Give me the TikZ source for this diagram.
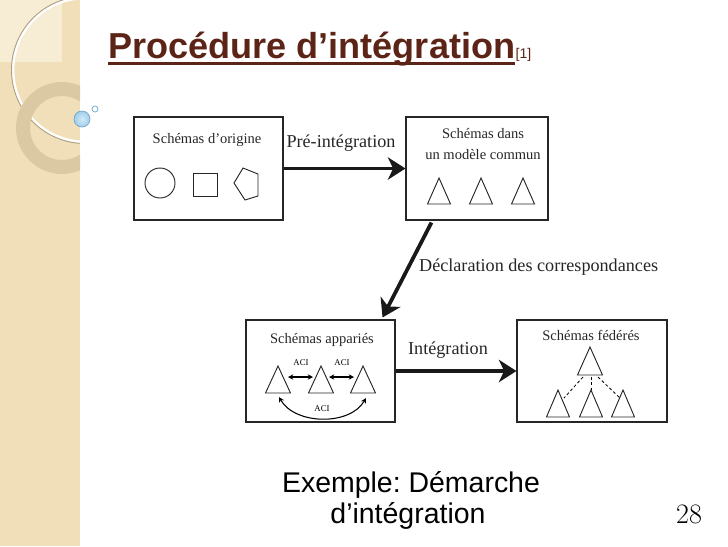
\documentclass[tikz,border=0pt]{standalone}
\usepackage{fontspec}
\setmainfont{Liberation Serif}
\newfontfamily\titlefont{Liberation Sans}
\newfontfamily\numfont{Latin Modern Roman}
\usetikzlibrary{arrows.meta,calc}
\definecolor{titlebrown}{RGB}{92,36,22}
\definecolor{stripbeige}{RGB}{241,223,185}
\definecolor{striplight}{RGB}{247,236,212}
\definecolor{ringtan}{RGB}{218,201,163}
\definecolor{bubble}{RGB}{160,206,234}
\definecolor{bubbleedge}{RGB}{110,168,208}
\frenchspacing
\tikzset{
  schbox/.style={draw=black!85, line width=0.9pt, inner sep=0pt},
  schlabel/.style={font=\fontsize{12.4}{18}\selectfont, align=center, text=black!85},
  flowlabel/.style={font=\fontsize{15.5}{18}\selectfont, text=black!85},
  bigarrow/.style={line width=3.2pt, -{Stealth[length=15pt,width=19pt,inset=4.5pt]}, black!90},
  aci/.style={line width=0.9pt, {Stealth[length=4.5pt,width=4.5pt]}-{Stealth[length=4.5pt,width=4.5pt]}},
  acilabel/.style={font=\fontsize{7.5}{9}\selectfont, inner sep=0pt},
  tri/.style={line width=0.8pt, line join=miter, black!85},
  dashlink/.style={line width=0.7pt, dash pattern=on 2.5pt off 2pt},
}
\begin{document}
\begin{tikzpicture}[x=0.03cm, y=-0.03cm]
    \useasboundingbox (0,0) rectangle (728,546);
    % bande decorative
    \begin{scope}
        \clip (0,0) rectangle (80,546);
        \fill[stripbeige] (0,0) rectangle (80,546);
        \fill[striplight] (0,0) rectangle (62,62);
        \draw[white, line width=2.4pt] (85,70) circle (72);
        \draw[ringtan!80!black, line width=0.8pt] (85,70) circle (73.5);
        \fill[ringtan, even odd rule] (62,128) circle (46) (62,128) circle (32);
    \end{scope}
    \shade[inner color=white!55!bubble, outer color=bubble] (82,119) circle (8);
    \draw[bubbleedge, line width=0.6pt] (82,119) circle (8);
    \draw[bubbleedge, fill=white, line width=0.6pt] (95,109) circle (3);
    % titre
    \node[anchor=base west, inner sep=0pt, font=\titlefont\bfseries\fontsize{30.8}{36}\selectfont, text=titlebrown] (titre) at (108,58) {Procédure d’intégration};
    \node[anchor=base west, inner sep=0pt, font=\titlefont\fontsize{12}{14}\selectfont, text=titlebrown] (ref) at (titre.base east) {[1]};
    \draw[titlebrown, line width=2.6pt] ($(titre.base west)+(0,5.5)$) -- ($(titre.base east)+(0,5.5)$);
    % schemas
    \node[schbox, minimum width=4.47cm, minimum height=3.09cm] (origine) at (208.5,168.5) {};
    \node[schbox, minimum width=4.26cm, minimum height=3.09cm] (commun) at (477,168.5) {};
    \node[schbox, minimum width=4.47cm, minimum height=3.06cm] (apparies) at (320.5,371) {};
    \node[schbox, minimum width=4.5cm, minimum height=3.06cm] (federes) at (592,371) {};
    \node[schlabel] (lorigine) at (207,140) {Schémas d'origine};
    \node[schlabel] (lcommun) at (483,144) {Schémas dans\\un modèle commun};
    \node[schlabel] (lapparies) at (322,340) {Schémas appariés};
    \node[schlabel] (lfederes) at (591,335) {Schémas fédérés};
    % formes d'origine
    \draw[tri] (160,183) circle (15);
    \draw[tri] (193,173) rectangle (217,196);
    \draw[tri] (243,168) -- (258,174) -- (258,196) -- (245,200) -- (234,183) -- cycle;
    % modele commun
    \foreach \x in {439,481,523}
        \draw[tri] (\x,178) -- ++(11.5,26) -- ++(-23,0) -- cycle;
    % schemas apparies
    \foreach \x/\n in {278/1,321/2,363/3} {
        \coordinate (ap\n) at (\x,366);
        \draw[tri] (ap\n) -- ++(12.5,27) -- ++(-25,0) -- cycle;
    }
    \draw[aci] ($(ap1)+(10,11)$) -- ($(ap2)+(-8,11)$);
    \draw[aci] ($(ap2)+(8,11)$) -- ($(ap3)+(-9,11)$);
    \draw[aci] ($(ap1)+(1,31)$) .. controls +(16,28) and +(-16,28) .. ($(ap3)+(3,32)$);
    \node[acilabel] (aci1) at (301,363) {ACI};
    \node[acilabel] (aci2) at (342,363) {ACI};
    \node[acilabel] (aci3) at (322,409) {ACI};
    % schemas federes
    \coordinate (ftop) at (590,347);
    \draw[tri] (ftop) -- ++(12.5,28) -- ++(-25,0) -- cycle;
    \foreach \x/\n in {558/1,591/2,623/3} {
        \coordinate (fb\n) at (\x,390);
        \draw[tri] (fb\n) -- ++(11.5,27) -- ++(-23,0) -- cycle;
    }
    \draw[dashlink] ($(ftop)+(-7,30)$) -- ($(fb1)+(6,8)$);
    \draw[dashlink] ($(ftop)+(1,30)$) -- (fb2);
    \draw[dashlink] ($(ftop)+(8,30)$) -- ($(fb3)+(-3,8)$);
    % fleches
    \draw[bigarrow] (origine) -- (commun);
    \draw[bigarrow] ($(commun.south west)+(26,2)$) -- ($(apparies.north east)+(-13,-2)$);
    \draw[bigarrow] (apparies) -- (federes);
    \node[flowlabel] (lpre) at (341,143) {Pré-intégration};
    \node[flowlabel, anchor=west] (ldecl) at (415,267) {Déclaration des correspondances};
    \node[flowlabel] (linteg) at (448,350) {Intégration};
    % legende
    \node[anchor=base, font=\titlefont\fontsize{24.3}{28}\selectfont] (legende1) at (411,492) {Exemple: Démarche};
    \node[anchor=base, font=\titlefont\fontsize{24.3}{28}\selectfont] (legende2) at (408,523) {d’intégration};
    \node[anchor=base, font=\numfont\fontsize{24}{28}\selectfont] (page) at (689,523) {28};
\end{tikzpicture}
\end{document}
